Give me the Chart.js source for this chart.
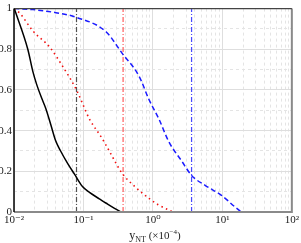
<!DOCTYPE html>
<html>
<head>
<meta charset="utf-8">
<script src="https://cdn.jsdelivr.net/npm/chart.js@4/dist/chart.umd.min.js"></script>
<style>
  html, body { margin: 0; padding: 0; background: #fff; }
</style>
</head>
<body>
<canvas id="grafico" width="301" height="243"></canvas>
<script>
// curves (x in units of 1e-4)
const blackX = [0.0101, 0.0158, 0.0187, 0.0213, 0.025, 0.0286, 0.0338, 0.0398, 0.0469, 0.06, 0.0743, 0.0968, 0.122, 0.169, 0.213, 0.28, 0.35];
const blackY = [1.0, 0.80, 0.69, 0.625, 0.56, 0.51, 0.43, 0.35, 0.30, 0.235, 0.186, 0.125, 0.096, 0.065, 0.043, 0.018, 0];

const redX = [0.0101, 0.0122, 0.0187, 0.0327, 0.0502, 0.0794, 0.122, 0.187, 0.235, 0.361, 0.57, 0.877, 1.2, 1.69, 2.0, 3.0];
const redY = [1.0, 0.976, 0.89, 0.81, 0.716, 0.60, 0.457, 0.36, 0.30, 0.19, 0.12, 0.067, 0.035, 0.01, 0, 0];

const blueX = [0.0101, 0.0187, 0.04, 0.0794, 0.213, 0.361, 0.631, 0.877, 1.22, 1.69, 2.6, 3.6, 5.7, 9.7, 15.3, 18.7];
const blueY = [1.0, 0.995, 0.98, 0.957, 0.885, 0.78, 0.668, 0.553, 0.457, 0.346, 0.25, 0.18, 0.13, 0.082, 0.024, 0];

// vertical dash-dot markers: black, red, blue
const markerX = [0.0794, 0.372, 3.6];

const xMajorTicks = [0.01, 0.1, 1, 10, 100];
const xTickLabels = ['10\u207B\u00B2', '10\u207B\u00B9', '10\u2070', '10\u00B9', '10\u00B2'];
const yMajorTicks = [0, 0.2, 0.4, 0.6, 0.8, 1];
const yTickLabels = ['0', '0.2', '0.4', '0.6', '0.8', '1'];
const yMinorTicks = [0.1, 0.3, 0.5, 0.7, 0.9];

const FONT = "'Liberation Serif', 'DejaVu Serif', serif";

function pts(xs, ys) {
  return xs.map((x, i) => ({ x: x, y: ys[i] }));
}

function vline(x, color) {
  return {
    data: [{ x: x, y: 0 }, { x: x, y: 1 }],
    borderColor: color,
    borderWidth: 1.2,
    borderDash: [5, 2, 1, 2],
    pointRadius: 0,
    order: 5
  };
}

const xMinorTicks = [];
xMajorTicks.slice(0, -1).forEach(d => {
  for (let k = 2; k <= 9; k++) xMinorTicks.push(d * k);
});

const framePlugin = {
  id: 'frame',
  afterDraw(chart) {
    const { ctx, chartArea: a } = chart;
    ctx.save();
    ctx.strokeStyle = '#8a8a8a';
    ctx.lineWidth = 2;
    ctx.beginPath();
    ctx.moveTo(a.left, a.bottom);
    ctx.lineTo(a.right, a.bottom);
    ctx.lineTo(a.right, a.top);
    ctx.stroke();
    ctx.strokeStyle = '#444';
    ctx.lineWidth = 1.2;
    ctx.beginPath();
    ctx.moveTo(a.left, a.top);
    ctx.lineTo(a.right, a.top);
    ctx.stroke();
    ctx.strokeStyle = '#000';
    ctx.lineWidth = 1.5;
    ctx.beginPath();
    ctx.moveTo(a.left, a.top);
    ctx.lineTo(a.left, a.bottom);
    ctx.stroke();

    // axis title: y_NT (x10^-4)
    const parts = [
      { t: 'y', size: 12, dy: 0 },
      { t: 'NT', size: 8, dy: 3 },
      { t: ' (\u00D710', size: 11, dy: 0 },
      { t: '\u22124', size: 7, dy: -5 },
      { t: ')', size: 11, dy: 0 }
    ];
    let total = 0;
    parts.forEach(p => {
      ctx.font = p.size + 'px ' + FONT;
      p.w = ctx.measureText(p.t).width;
      total += p.w;
    });
    let x = (a.left + a.right) / 2 + 2 - total / 2;
    const base = 239;
    ctx.fillStyle = '#222';
    ctx.textBaseline = 'alphabetic';
    ctx.textAlign = 'left';
    parts.forEach(p => {
      ctx.font = p.size + 'px ' + FONT;
      ctx.fillText(p.t, x, base + p.dy);
      x += p.w;
    });
    ctx.restore();
  }
};

const ctx = document.getElementById('grafico').getContext('2d');

new Chart(ctx, {
  type: 'line',
  data: {
    datasets: [
      {
        data: pts(blackX, blackY),
        borderColor: '#000',
        borderWidth: 1.5,
        cubicInterpolationMode: 'monotone',
        pointRadius: 0,
        order: 1
      },
      {
        data: pts(redX, redY),
        borderColor: '#f01010',
        borderWidth: 1.6,
        borderDash: [1.5, 3.5],
        cubicInterpolationMode: 'monotone',
        pointRadius: 0,
        order: 2
      },
      {
        data: pts(blueX, blueY),
        borderColor: '#1a1aff',
        borderWidth: 1.5,
        borderDash: [5, 3],
        cubicInterpolationMode: 'monotone',
        pointRadius: 0,
        order: 3
      },
      vline(markerX[0], '#505050'),
      vline(markerX[1], '#ff5c5c'),
      vline(markerX[2], '#4848ff')
    ]
  },
  options: {
    responsive: false,
    animation: false,
    devicePixelRatio: 1,
    layout: { padding: { top: 4, right: 7, left: 0, bottom: 0 } },
    plugins: {
      legend: { display: false },
      tooltip: { enabled: false }
    },
    scales: {
      x: {
        type: 'logarithmic',
        position: 'bottom',
        min: 0.01,
        max: 100,
        afterBuildTicks: s => { s.ticks = xMajorTicks.map(v => ({ value: v, major: true })); },
        afterFit: s => { s.height = 31; },
        grid: { color: '#dedede', lineWidth: 1, drawTicks: false },
        border: { display: false },
        ticks: {
          autoSkip: false,
          maxRotation: 0,
          padding: 2,
          color: '#222',
          font: { family: FONT, size: 11 },
          callback: v => xTickLabels[xMajorTicks.indexOf(v)]
        }
      },
      xMinor: {
        type: 'logarithmic',
        position: 'bottom',
        min: 0.01,
        max: 100,
        afterBuildTicks: s => { s.ticks = xMinorTicks.map(v => ({ value: v })); },
        afterFit: s => { s.height = 0; },
        grid: { color: '#e4e4e4', lineWidth: 1, drawTicks: false },
        border: { display: false, dash: [3, 3] },
        ticks: { display: false }
      },
      y: {
        type: 'linear',
        position: 'left',
        min: 0,
        max: 1,
        afterBuildTicks: s => { s.ticks = yMajorTicks.map(v => ({ value: v })); },
        afterFit: s => { s.width = 14; },
        grid: { color: '#dedede', lineWidth: 1, drawTicks: false },
        border: { display: false },
        ticks: {
          padding: 2,
          color: '#222',
          font: { family: FONT, size: 11 },
          callback: v => yTickLabels[yMajorTicks.indexOf(v)]
        }
      },
      yMinor: {
        type: 'linear',
        position: 'left',
        min: 0,
        max: 1,
        afterBuildTicks: s => { s.ticks = yMinorTicks.map(v => ({ value: v })); },
        afterFit: s => { s.width = 0; },
        grid: { color: '#e4e4e4', lineWidth: 1, drawTicks: false },
        border: { display: false, dash: [3, 3] },
        ticks: { display: false }
      }
    }
  },
  plugins: [framePlugin]
});
</script>
</body>
</html>
